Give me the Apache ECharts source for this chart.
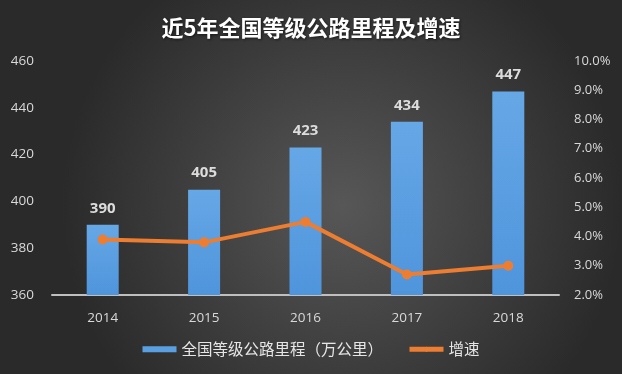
<!DOCTYPE html>
<html>
<head>
<meta charset="utf-8">
<script src="https://cdn.jsdelivr.net/npm/echarts@6/dist/echarts.min.js"></script>
<style>html,body{margin:0;padding:0;background:#333;}#c{width:622px;height:374px;}</style>
</head>
<body>
<div id="c"></div>
<script>
var categories = ['2014', '2015', '2016', '2017', '2018'];
var mileage = [390, 405, 423, 434, 447];
var growth = [3.9, 3.8, 4.5, 2.7, 3.0];
var leftTicks = {min: 360, max: 460, interval: 20};
var rightTicks = {min: 2, max: 10, interval: 1};

var chart = echarts.init(document.getElementById('c'));
chart.setOption({
  backgroundColor: {
    type: 'radial', x: 0.55, y: 0.55, r: 0.75,
    colorStops: [{offset: 0, color: '#575757'}, {offset: 1, color: '#2a2a2a'}]
  },
  textStyle: {fontFamily: '"Noto Sans CJK SC", "Open Sans", sans-serif'},
  title: {
    text: '近5年全国等级公路里程及增速',
    left: 'center', top: 12,
    textStyle: {color: '#ffffff', fontSize: 22, fontWeight: 'bold',
      fontFamily: '"Noto Sans CJK SC", sans-serif',
      textShadowColor: 'rgba(0,0,0,0.6)', textShadowBlur: 3, textShadowOffsetX: 1, textShadowOffsetY: 1}
  },
  grid: {left: 52, right: 63, top: 61, bottom: 79},
  legend: {
    bottom: 12, left: 'center', itemGap: 24,
    textStyle: {color: '#e6e6e6', fontSize: 15.5},
    data: [
      {name: '全国等级公路里程（万公里）', icon: 'rect', itemStyle: {color: '#5b9fe3'}},
      {name: '增速', lineStyle: {width: 5, color: '#ed7d31'}, itemStyle: {color: '#ed7d31'}}
    ],
    itemWidth: 34, itemHeight: 6
  },
  xAxis: {
    type: 'category', data: categories,
    axisLine: {lineStyle: {color: '#bfbfbf', width: 2}},
    axisTick: {show: false},
    axisLabel: {color: '#d9d9d9', fontSize: 13.5, margin: 16, fontFamily: 'Open Sans, sans-serif'}
  },
  yAxis: [
    {
      type: 'value', min: leftTicks.min, max: leftTicks.max, interval: leftTicks.interval,
      axisLine: {show: false}, axisTick: {show: false}, splitLine: {show: false},
      axisLabel: {color: '#d9d9d9', fontSize: 13.5, margin: 18, fontFamily: 'Open Sans, sans-serif'}
    },
    {
      type: 'value', min: rightTicks.min, max: rightTicks.max, interval: rightTicks.interval,
      axisLine: {show: false}, axisTick: {show: false}, splitLine: {show: false},
      axisLabel: {color: '#d9d9d9', fontSize: 13, margin: 15, fontFamily: 'Open Sans, sans-serif',
        formatter: function (v) { return v.toFixed(1) + '%'; }}
    }
  ],
  series: [
    {
      name: '全国等级公路里程（万公里）', type: 'bar', data: mileage, barWidth: 32,
      itemStyle: {color: {type: 'linear', x: 0, y: 0, x2: 0, y2: 1,
        colorStops: [{offset: 0, color: '#66a7e6'}, {offset: 1, color: '#4f95dc'}]}},
      label: {show: true, position: 'top', distance: 9, color: '#dcdcdc', fontSize: 15, fontWeight: 'bold',
        fontFamily: 'Open Sans, sans-serif'}
    },
    {
      name: '增速', type: 'line', yAxisIndex: 1, data: growth,
      symbol: 'circle', symbolSize: 10,
      lineStyle: {color: '#ed7d31', width: 4},
      itemStyle: {color: '#ed7d31'}
    }
  ]
});
</script>
</body>
</html>
